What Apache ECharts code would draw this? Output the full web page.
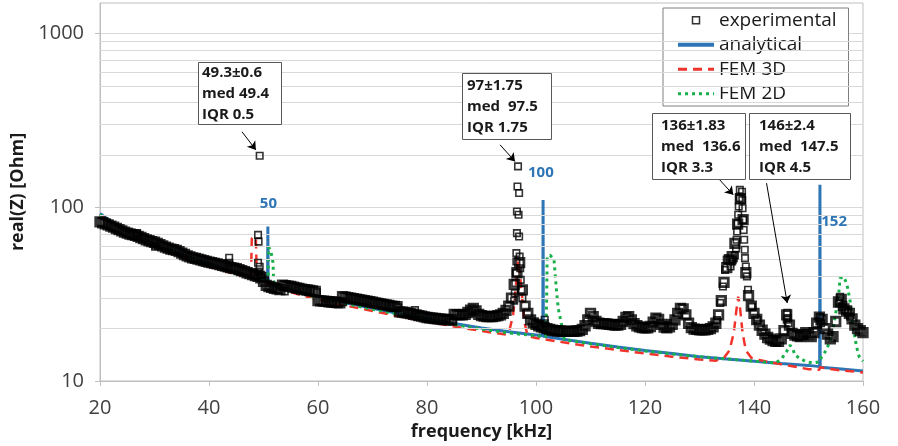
<!DOCTYPE html>
<html><head><meta charset="utf-8">
<script src="https://cdn.jsdelivr.net/npm/echarts@6/dist/echarts.min.js"></script>
<style>html,body{margin:0;padding:0;background:#fff}#c{width:898px;height:446px}</style>
</head><body><div id="c"></div>
<script>
const FONT = '"Open Sans", "Noto Sans", sans-serif';
const xTicks = [20, 40, 60, 80, 100, 120, 140, 160];
const yTicks = [10, 100, 1000];
const minorGrid = [20, 30, 40, 50, 60, 70, 80, 90, 200, 300, 400, 500, 600, 700, 800, 900];

// experimental: dense band read every 0.5 kHz from 20 to 160 kHz
const expStart = 20, expStep = 0.5;
const expBand = [
  82.5, 81.5, 80.3, 79.2, 78, 76.8, 75.5, 74.3, 73.2, 72,
  71, 70.2, 69.6, 69, 68, 67, 66, 65, 64.2, 63.5,
  62.9, 62, 61, 60, 59, 58.2, 57.5, 57, 56.5, 55.5,
  54.5, 53.5, 52.5, 51.8, 51.2, 50.8, 50.3, 49.8, 49.3, 48.8,
  48.4, 48, 47.6, 47.2, 46.8, 46.3, 45.8, 45.4, 45, 44.6,
  44.3, 43.8, 43.2, 42.6, 42, 41.5, 41, 40.5, 40, 39.3,
  37.5, 35.5, 35, 34.6, 34.2, 33.9, 33.6, 35.6, 35.4, 35.2,
  35, 34.7, 34.4, 34.1, 33.8, 33.6, 33.4, 33.2, 33, 32.8,
  29, 28.9, 28.8, 28.7, 28.6, 28.5, 28.4, 28.3, 28.2, 30.6,
  30.4, 30.2, 30, 29.8, 29.6, 29.4, 29.2, 29, 28.8, 28.6,
  28.4, 28.2, 28, 27.8, 27.6, 27.4, 27.2, 27, 26.9, 26.8,
  25, 24.9, 24.8, 24.6, 24.4, 24.2, 24, 23.8, 23.6, 23.4,
  23.2, 23.1, 23, 22.9, 22.8, 22.7, 22.6, 22.6, 22.5, 22.5,
  24.2, 24.1, 24, 24, 24.2, 24.8, 25.6, 26.2, 25.3, 24.2,
  23.8, 23.6, 23.5, 23.5, 23.5, 23.6, 23.8, 24, 24.5, 25.5,
  27, 30, 36, 42, 48, 33.5, 27, 24.5, 22.5, 21.6,
  21.2, 20.8, 20.5, 20.2, 20, 19.8, 19.6, 19.5, 19.4, 19.4,
  19.3, 19.3, 19.3, 19.3, 19.3, 19.4, 19.5, 19.8, 20.8, 22.5,
  24.5, 23.5, 22, 21.5, 21.4, 21.4, 21.3, 21.2, 21.1, 21,
  21, 21.2, 22, 23.2, 23.5, 22.5, 21.4, 20.8, 20.5, 20.3,
  20.2, 20.2, 20.6, 21.8, 23, 22.6, 21.2, 20.4, 20.2, 20.5,
  21.2, 22.5, 24.5, 26.2, 26, 24, 21.5, 20.3, 19.9, 19.8,
  19.7, 19.7, 19.7, 19.8, 20, 20.5, 21.5, 24, 29, 37,
  45, 50, 52, 62, 80, 112, 85, 42, 31, 27,
  24.5, 22.6, 21, 19.6, 18.6, 17.8, 17.4, 17.1, 16.9, 16.9,
  17.5, 19.5, 24, 21, 18.8, 18.4, 18.2, 18, 18.5, 19,
  18.5, 18, 19, 21.5, 23.3, 22.6, 20, 18.6, 17.5, 18,
  22, 28.5, 29.5, 26, 25.3, 24.5, 22.8, 21, 20, 19.5,
  19
];
// experimental: isolated squares (resonance peaks, outliers)
const expPeakF = [26.8, 30.1, 43.7, 43.7, 49.0, 49.1, 49.0, 49.3, 49.1, 49.6, 49.6, 49.3, 53.9, 59.8, 64.6, 74.7, 77.8, 84.8,
  96.7, 96.6, 96.9, 96.5, 96.8, 96.5, 96.9, 96.4, 97.0, 96.4, 97.1, 96.3, 97.2, 96.2, 97.3, 96.1, 97.5, 96.0, 99.8, 101.6, 101.6,
  137.4, 137.3, 137.2, 137.1, 137.0, 136.9, 136.8, 136.7, 136.5, 136.0, 135.7, 135.6, 136.1, 135.0, 134.7, 134.3, 133.8, 133.2,
  137.8, 137.85, 137.9, 138.0, 138.1, 138.2, 138.3, 138.35, 138.5, 138.7, 138.9, 139.6, 140.6,
  146.1, 146.2, 146.3, 146.0, 152.1, 152.0, 152.3, 155.8, 155.6, 156.1, 156.4, 156.7, 157.2, 157.6];
const expPeakV = [71, 59.4, 51.2, 47.9, 69.4, 63.4, 47.9, 45.5, 42.6, 40.8, 39.2, 198, 32.8, 32.4, 28.4, 26.5, 25.6, 22.0,
  172, 131.8, 120.8, 94.6, 90.5, 71, 67.9, 54.5, 52, 48.7, 44.6, 41.8, 38.2, 36.6, 33.5, 32, 30, 29, 21.5, 21.5, 22.5,
  126, 113, 101, 90.5, 81, 72.5, 65, 58, 52.9, 48.7, 45.6, 50, 50, 50, 43.6, 35, 28.1, 22.4,
  123, 110, 98.8, 84.6, 74, 65, 57, 51, 45.6, 40, 33.5, 26.7, 22.4,
  24.7, 23, 21.5, 22.5, 23.3, 22, 21.5, 30.5, 28, 26.7, 27.5, 25.6, 24.7, 23.5];

const anaF = [20, 22, 24, 26, 28, 30, 32, 34, 36, 38, 40, 42, 44, 46, 48, 50, 50.75, 50.8, 50.85, 52,
  55, 60, 65, 70, 75, 80, 85, 90, 95, 100, 101.25, 101.3, 101.35, 105, 110, 115, 120, 125, 130, 135,
  140, 145, 150, 152.05, 152.1, 152.15, 155, 160];
const anaV = [92, 83, 76, 70, 65.5, 61.5, 58, 55, 52, 49.5, 47.3, 45.2, 43.3, 41.5, 39.8, 38.3, 38.1, 77.5, 36.4, 35.3,
  33.4, 30.5, 28.2, 26.2, 24.4, 22.8, 21.4, 20.2, 19.2, 18.4, 18.2, 110, 18.1, 17.4, 16.5, 15.7, 15, 14.4, 13.8, 13.4,
  13, 12.6, 12.3, 12.1, 135, 12.0, 11.8, 11.4];

const fem3dF = [20, 25, 30, 35, 40, 45, 47.7, 47.8, 47.85, 48.2, 48.6, 48.7, 48.8, 50, 51, 55, 60, 65, 70, 75,
  80, 85, 90, 94.5, 95.2, 95.8, 96.3, 96.7, 97.1, 97.5, 97.9, 98.4, 99, 100, 105, 110, 115, 120, 125, 130,
  133, 134.5, 135.5, 136.3, 136.8, 137.1, 137.4, 137.9, 138.5, 139.5, 141, 143, 145, 148, 150, 152, 152.1, 155, 160];
const fem3dV = [90, 72, 59.5, 52, 45.8, 41, 39.5, 55, 66, 68, 66, 50, 40, 37.3, 35.8, 32.4, 29.5, 27.2, 25.3, 23.5,
  22, 20.6, 19.4, 18.5, 20, 24, 35, 49.8, 40, 29.3, 21.6, 18.6, 18, 17.7, 16.7, 15.8, 15.1, 14.4, 13.8, 13.3,
  13.1, 13.6, 15, 19, 26, 30.6, 27, 19, 15, 13.6, 13.2, 12.8, 12.5, 12, 11.7, 11.6, 12, 11.6, 11.2];

const fem2dF = [20, 25, 30, 35, 40, 45, 50, 50.85, 50.9, 51.3, 51.75, 51.85, 52.1, 55, 60, 65, 70, 75, 80, 85,
  90, 95, 100, 101.8, 101.95, 102.05, 102.6, 103.3, 103.8, 104.1, 104.7, 105.2, 110, 115, 120, 125, 130, 135, 140, 144,
  145.1, 146.0, 146.6, 147.2, 147.5, 148.4, 149.6, 150.9, 152.1, 152.4, 153.3, 154.2, 154.9, 155.5, 155.8, 156.4, 157.0, 157.6, 158.2, 158.8,
  159.3, 160];
const fem2dV = [90.5, 72.5, 60.5, 52.5, 46.3, 41.3, 37.6, 37, 59, 57, 48, 38, 35.5, 33, 30.2, 27.9, 25.9, 24.1, 22.5, 21.1,
  19.9, 18.9, 18.2, 18, 29, 52, 53, 50, 32, 26, 21, 17.3, 16.4, 15.6, 14.9, 14.3, 13.8, 13.4, 13, 12.7,
  13.5, 14.8, 16.1, 15.1, 14.1, 13.5, 12.9, 12.7, 12.9, 13.8, 15.1, 18, 23.5, 30.6, 39.1, 39.9, 36.6, 29.3, 20.5, 15.8,
  13.8, 13];

const resLabels = ['50', '100', '152'];
const resLabelF = [50.9, 100.9, 154.7];
const resLabelV = [104.7, 158, 82.5];

const notes = ['49.3±0.6\nmed 49.4\nIQR 0.5', '97±1.75\nmed  97.5\nIQR 1.75', '136±1.83\nmed  136.6\nIQR 3.3', '146±2.4\nmed  147.5\nIQR 4.5'];
const arrowFrom = [[46.06, 272], [93.4, 229], [133.7, 144], [142.3, 137.7]];
const arrowTo = [[48.6, 214], [96.15, 183.7], [136.2, 118], [146.1, 28.1]];

const zip = (a, b) => a.map((v, i) => [v, b[i]]);
const bandData = expBand.map((v, i) => [expStart + i * expStep, v]);
const peakData = zip(expPeakF, expPeakV);

const noteBoxes = [
  {left: 198, top: 62, pl: 4, w: 80, pv: 0},
  {left: 462, top: 73, pl: 5, w: 85, pv: 2},
  {left: 652, top: 113, pl: 9, w: 85, pv: 2},
  {left: 749, top: 113, pl: 10, w: 92, pv: 2}
];

const chart = echarts.init(document.getElementById('c'));
chart.setOption({
  animation: false,
  backgroundColor: '#fff',
  title: notes.map((t, i) => ({
    text: t, left: noteBoxes[i].left, top: noteBoxes[i].top,
    padding: [noteBoxes[i].pv, 0, noteBoxes[i].pv, noteBoxes[i].pl],
    borderWidth: 1, borderColor: '#595959', backgroundColor: '#fff',
    textStyle: {fontFamily: FONT, fontSize: 15, fontWeight: 'bold', color: '#1a1a1a', lineHeight: 21, width: noteBoxes[i].w}
  })),
  legend: {
    orient: 'vertical', left: 663, top: 8, padding: [0, 12, 0, 13], itemGap: 0,
    itemWidth: 36, itemHeight: 7, borderColor: '#7f7f7f', borderWidth: 1, backgroundColor: '#fff',
    textStyle: {fontFamily: FONT, fontSize: 19, color: '#1a1a1a', lineHeight: 24.5},
    data: [
      {name: 'experimental', icon: 'path://M0,0L10,0L10,10L0,10Z', itemStyle: {color: 'rgba(255,255,255,0)', borderColor: '#000', borderWidth: 1.5}},
      {name: 'analytical', itemStyle: {opacity: 0}, lineStyle: {width: 4}},
      {name: 'FEM 3D', itemStyle: {opacity: 0}, lineStyle: {width: 3}},
      {name: 'FEM 2D', itemStyle: {opacity: 0}, lineStyle: {width: 3}}
    ]
  },
  grid: {left: 100, right: 35, top: 3, bottom: 65, show: true, borderColor: '#bfbfbf', borderWidth: 1, backgroundColor: 'transparent'},
  xAxis: {
    type: 'value', min: 20, max: 160, interval: 20,
    name: 'frequency [kHz]', nameLocation: 'middle', nameGap: 42,
    nameTextStyle: {fontFamily: FONT, fontSize: 18, fontWeight: 'bold', color: '#1a1a1a'},
    axisLine: {show: true, lineStyle: {color: '#bfbfbf'}},
    axisTick: {show: true, length: 5, lineStyle: {color: '#bfbfbf'}},
    axisLabel: {fontFamily: FONT, fontSize: 20, color: '#404040', margin: 17},
    splitLine: {show: false}
  },
  yAxis: {
    type: 'log', logBase: 10, min: 10, max: 1500,
    name: 'real(Z) [Ohm]', nameLocation: 'middle', nameGap: 56,
    nameTextStyle: {fontFamily: FONT, fontSize: 18, fontWeight: 'bold', color: '#1a1a1a'},
    axisLine: {show: true, lineStyle: {color: '#bfbfbf'}},
    axisTick: {show: true, length: 5, lineStyle: {color: '#bfbfbf'}, customValues: yTicks},
    axisLabel: {fontFamily: FONT, fontSize: 20, color: '#404040', margin: 16, customValues: yTicks,
      formatter: v => String(Math.round(v))},
    splitLine: {show: true, lineStyle: {color: '#d9d9d9', width: 1}}
  },
  series: [
    {
      name: 'grid', type: 'line', data: [], z: 0, silent: true,
      markLine: {silent: true, symbol: ['none', 'none'], label: {show: false},
        lineStyle: {color: '#d9d9d9', width: 1, type: 'solid'}, emphasis: {disabled: true},
        data: minorGrid.map(v => ({yAxis: v}))}
    },
    {
      name: 'analytical', type: 'line', data: zip(anaF, anaV), symbol: 'none', z: 2,
      lineStyle: {color: '#2e75b6', width: 3}, itemStyle: {color: '#2e75b6'},
      markPoint: {silent: true, symbol: 'rect', symbolSize: 1, itemStyle: {color: 'rgba(0,0,0,0)'},
        label: {show: true, position: 'inside', formatter: p => p.name, color: '#2e75b6', fontFamily: FONT, fontWeight: 'bold', fontSize: 15},
        data: resLabels.map((t, i) => ({name: t, coord: [resLabelF[i], resLabelV[i]]}))}
    },
    {
      name: 'FEM 3D', type: 'line', data: zip(fem3dF, fem3dV), symbol: 'none', z: 3,
      lineStyle: {color: '#f0332b', width: 2.5, type: [9, 6]}, itemStyle: {color: '#f0332b'}
    },
    {
      name: 'FEM 2D', type: 'line', data: zip(fem2dF, fem2dV), symbol: 'none', z: 4,
      lineStyle: {color: '#18b04a', width: 3, type: [3, 4]}, itemStyle: {color: '#18b04a'}
    },
    {
      name: 'experimental', type: 'scatter', data: bandData, symbol: 'rect', symbolSize: 8.5, z: 5,
      itemStyle: {color: 'rgba(255,255,255,0)', borderColor: '#000', borderWidth: 2.8}
    },
    {
      name: 'experimental', type: 'scatter', data: peakData, symbol: 'rect', symbolSize: 6.5, z: 6,
      itemStyle: {color: 'rgba(255,255,255,0)', borderColor: '#000', borderWidth: 1.6},
      markLine: {silent: true, symbol: ['none', 'arrow'], symbolSize: 8, label: {show: false},
        lineStyle: {color: '#000', width: 1, type: 'solid'},
        data: arrowFrom.map((a, i) => [{coord: a}, {coord: arrowTo[i]}])}
    }
  ]
});
</script></body></html>
